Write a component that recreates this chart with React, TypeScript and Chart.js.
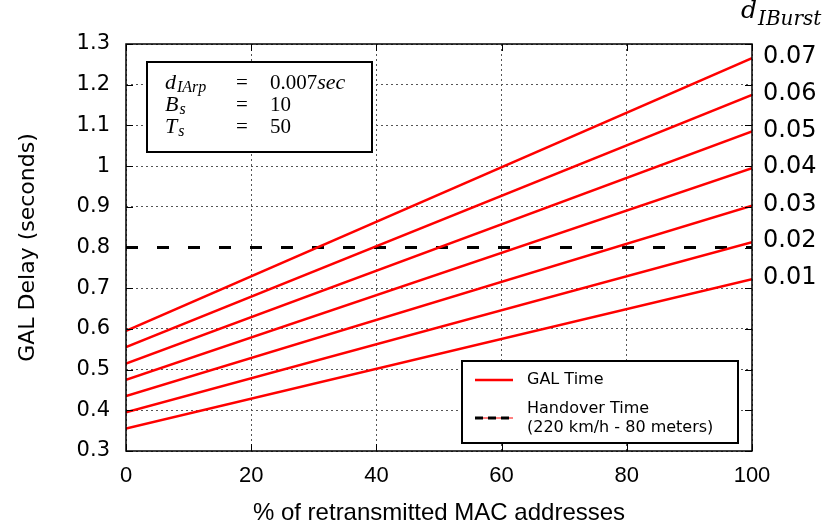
import { useEffect, useRef } from 'react';
import { Chart, registerables } from 'chart.js';

Chart.register(...registerables);

// % of retransmitted MAC addresses at the two ends of each line
const retransmittedPct = [0, 100];
// inter-burst delay of each line (right-hand labels)
const burstDelays = ['0.01', '0.02', '0.03', '0.04', '0.05', '0.06', '0.07'];
// GAL delay (s) at 0 % and at 100 % retransmitted addresses
const galDelayAt0 = [0.355, 0.395, 0.435, 0.475, 0.515, 0.555, 0.595];
const galDelayAt100 = [0.722, 0.813, 0.903, 0.995, 1.085, 1.175, 1.265];
// handover time limit (s)
const handoverDelay = [0.8, 0.8];

const xTitle = '% of retransmitted MAC addresses';
const yTitle = 'GAL Delay (seconds)';
const legendGal = 'GAL Time';
const legendHandover = ['Handover Time', '(220 km/h - 80 meters)'];

const SANS = '"DejaVu Sans", sans-serif';
const HELV = '"Liberation Sans", Arial, sans-serif';
const SERIF = '"Liberation Serif", "Times New Roman", serif';
const MATH = '"DejaVu Serif", serif';

function drawMath(
  ctx: CanvasRenderingContext2D,
  x: number,
  y: number,
  sym: string,
  sub: string,
  size: number,
  subSize: number,
  subDrop: number,
  family: string = SERIF
) {
  ctx.font = `italic ${size}px ${family}`;
  ctx.fillText(sym, x, y);
  const w = ctx.measureText(sym).width;
  ctx.font = `italic ${subSize}px ${family}`;
  ctx.fillText(sub, x + w + 1, y + subDrop);
}

const overlayPlugin = {
  id: 'overlay',
  afterDraw(chart: any) {
    const { ctx, chartArea } = chart;
    const { left, right, top, bottom } = chartArea;
    const xs = chart.scales.x;
    const ys = chart.scales.y;
    ctx.save();

    // frame
    ctx.strokeStyle = '#000';
    ctx.lineWidth = 1.5;
    ctx.setLineDash([]);
    ctx.strokeRect(left, top, right - left, bottom - top);

    // inward tick marks on all four sides
    ctx.lineWidth = 1;
    const tl = 7;
    ctx.beginPath();
    ys.ticks.forEach((t: any) => {
      const py = Math.round(ys.getPixelForValue(t.value)) + 0.5;
      ctx.moveTo(left, py);
      ctx.lineTo(left + tl, py);
      ctx.moveTo(right, py);
      ctx.lineTo(right - tl, py);
    });
    xs.ticks.forEach((t: any) => {
      const px = Math.round(xs.getPixelForValue(t.value)) + 0.5;
      ctx.moveTo(px, bottom);
      ctx.lineTo(px, bottom - tl);
      ctx.moveTo(px, top);
      ctx.lineTo(px, top + tl);
    });
    ctx.stroke();

    // parameter box
    const pbL = left + 21;
    const pbT = top + 18;
    ctx.fillStyle = '#fff';
    ctx.fillRect(pbL, pbT, 225, 90);
    ctx.lineWidth = 2;
    ctx.strokeRect(pbL, pbT, 225, 90);
    ctx.fillStyle = '#000';
    ctx.textBaseline = 'alphabetic';
    ctx.textAlign = 'left';
    const rowY = [pbT + 27, pbT + 49, pbT + 71];
    const symX = pbL + 18;
    const eqX = pbL + 95;
    const valX = pbL + 123;
    drawMath(ctx, symX, rowY[0], 'd', 'IArp', 22, 16, 3);
    drawMath(ctx, symX, rowY[1], 'B', 's', 22, 16, 3);
    drawMath(ctx, symX, rowY[2], 'T', 's', 22, 16, 3);
    ctx.font = `21px ${SERIF}`;
    ctx.textAlign = 'center';
    rowY.forEach((ry) => ctx.fillText('=', eqX, ry));
    ctx.textAlign = 'left';
    ctx.fillText('0.007', valX, rowY[0]);
    const w0 = ctx.measureText('0.007').width;
    ctx.font = `italic 22px ${SERIF}`;
    ctx.fillText('sec', valX + w0, rowY[0]);
    ctx.font = `21px ${SERIF}`;
    ctx.fillText('10', valX, rowY[1]);
    ctx.fillText('50', valX, rowY[2]);

    // legend box
    const lbL = right - 290;
    const lbT = bottom - 90;
    ctx.fillStyle = '#fff';
    ctx.fillRect(lbL, lbT, 276, 82);
    ctx.lineWidth = 2;
    ctx.strokeStyle = '#000';
    ctx.strokeRect(lbL, lbT, 276, 82);
    const sx0 = lbL + 13;
    const sx1 = lbL + 51;
    const r1 = lbT + 19;
    const r2 = lbT + 57;
    ctx.strokeStyle = '#ff0000';
    ctx.lineWidth = 2.5;
    ctx.beginPath();
    ctx.moveTo(sx0, r1);
    ctx.lineTo(sx1, r1);
    ctx.stroke();
    ctx.lineWidth = 1;
    ctx.beginPath();
    ctx.moveTo(sx0, r2);
    ctx.lineTo(sx1, r2);
    ctx.stroke();
    ctx.strokeStyle = '#000';
    ctx.lineWidth = 3;
    ctx.setLineDash([8, 5]);
    ctx.beginPath();
    ctx.moveTo(sx0, r2);
    ctx.lineTo(sx1, r2);
    ctx.stroke();
    ctx.setLineDash([]);
    ctx.fillStyle = '#000';
    ctx.font = `16px ${SANS}`;
    ctx.textBaseline = 'middle';
    ctx.fillText(legendGal, lbL + 65, r1);
    ctx.fillText(legendHandover[0], lbL + 65, lbT + 48);
    ctx.fillText(legendHandover[1], lbL + 65, lbT + 67);

    // right-hand labels at the end of each line
    ctx.font = `24px ${SANS}`;
    ctx.textAlign = 'left';
    ctx.textBaseline = 'middle';
    burstDelays.forEach((lab, i) => {
      const py = ys.getPixelForValue(galDelayAt100[i]);
      ctx.fillText(lab, right + 11, py - 1);
    });

    // header above the right-hand labels
    ctx.textBaseline = 'alphabetic';
    drawMath(ctx, right - 11, 18, 'd', 'IBurst', 25, 20, 7, MATH);

    // axis titles
    ctx.font = `24px ${HELV}`;
    ctx.textAlign = 'center';
    ctx.textBaseline = 'middle';
    ctx.fillText(xTitle, (left + right) / 2, 513);

    ctx.save();
    ctx.translate(28, (top + bottom) / 2);
    ctx.rotate(-Math.PI / 2);
    ctx.font = `22px ${SANS}`;
    ctx.fillText(yTitle, 0, 0);
    ctx.restore();

    ctx.restore();
  },
};

export default function App() {
  const ref = useRef<HTMLCanvasElement>(null);

  useEffect(() => {
    if (!ref.current) return;
    const galSets = burstDelays.map((lab, i) => ({
      label: `GAL Time ${lab}`,
      data: retransmittedPct.map((x, k) => ({ x, y: k === 0 ? galDelayAt0[i] : galDelayAt100[i] })),
      borderColor: '#ff0000',
      borderWidth: 2.5,
      pointRadius: 0,
      fill: false,
      tension: 0,
    }));
    // no dotted grid line under the handover threshold
    const yGridColor = (c: any) =>
      c.tick && Math.abs(c.tick.value - handoverDelay[0]) < 1e-6 ? 'rgba(0,0,0,0)' : '#555';
    const chart = new Chart(ref.current, {
      type: 'line',
      data: {
        datasets: [
          ...galSets,
          {
            label: 'Handover Time',
            data: retransmittedPct.map((x, k) => ({ x, y: handoverDelay[k] })),
            borderColor: '#000',
            borderWidth: 3,
            borderDash: [12, 19],
            pointRadius: 0,
            fill: false,
          },
        ],
      },
      options: {
        animation: false,
        responsive: false,
        devicePixelRatio: 1,
        layout: { padding: { top: 44, right: 78, bottom: 0, left: 0 } },
        plugins: {
          legend: { display: false },
          tooltip: { enabled: false },
        },
        scales: {
          x: {
            type: 'linear',
            min: 0,
            max: 100,
            afterFit: (s: any) => {
              s.height = 78;
            },
            ticks: {
              stepSize: 20,
              color: '#000',
              padding: 12,
              font: { family: HELV, size: 22 },
            },
            grid: { color: '#555', lineWidth: 1, drawTicks: false, tickLength: 0 },
            border: { display: false, dash: [2, 3] },
          },
          y: {
            type: 'linear',
            min: 0.3,
            max: 1.3,
            afterFit: (s: any) => {
              s.width = 126;
            },
            ticks: {
              stepSize: 0.1,
              color: '#000',
              padding: 16,
              font: { family: SANS, size: 21 },
              callback: (v: any) => String(Number(Number(v).toFixed(1))),
            },
            grid: { color: yGridColor, lineWidth: 1, drawTicks: false, tickLength: 0 },
            border: { display: false, dash: [2, 3] },
          },
        },
      },
      plugins: [overlayPlugin],
    });
    return () => chart.destroy();
  }, []);

  return (
    <div style={{ position: 'absolute', left: 0, top: 0, width: 830, height: 529, background: '#fff' }}>
      <canvas ref={ref} width={830} height={529} style={{ display: 'block' }} />
    </div>
  );
}
